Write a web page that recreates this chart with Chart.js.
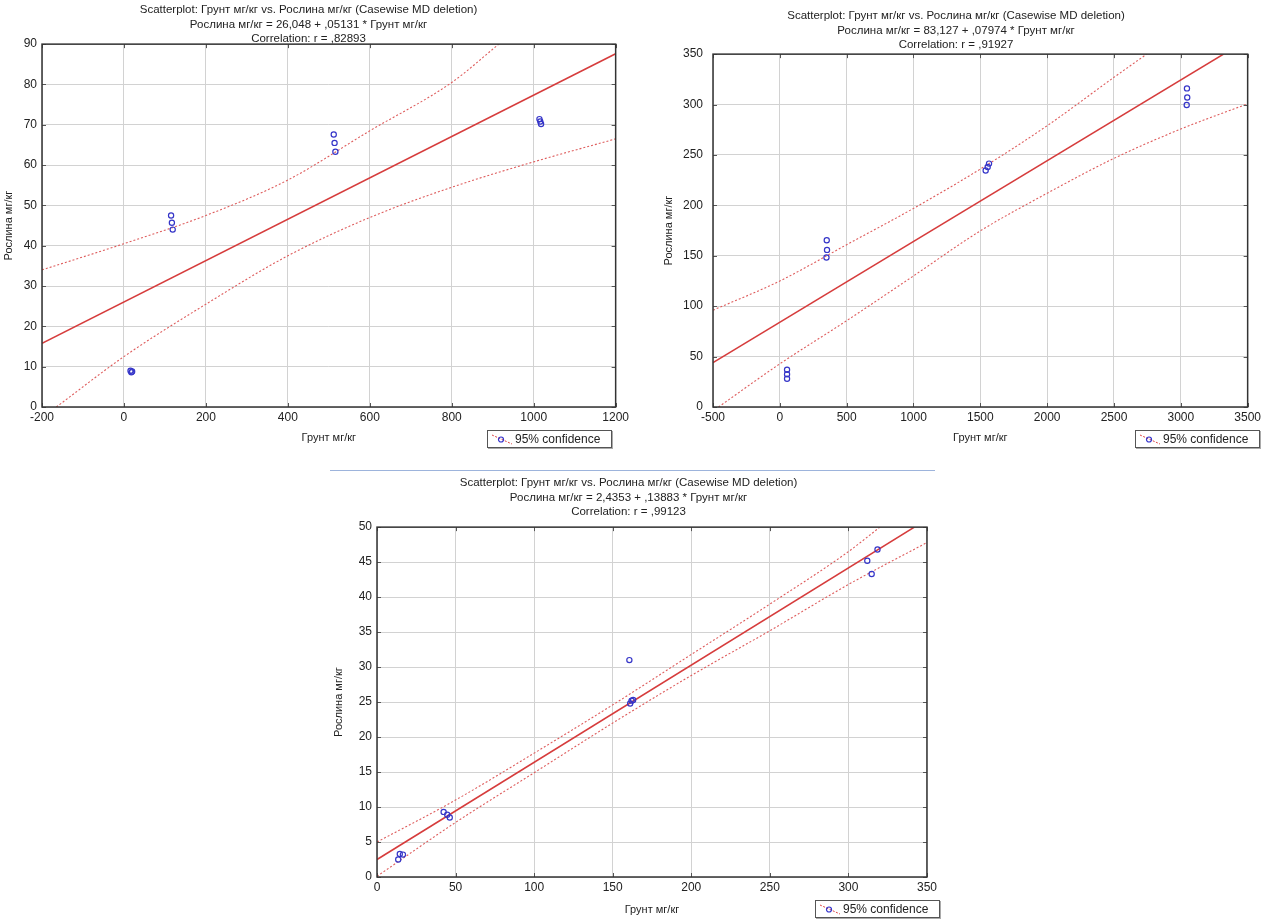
<!DOCTYPE html>
<html>
<head>
<meta charset="utf-8">
<title>Scatterplots</title>
<script src="https://cdn.jsdelivr.net/npm/chart.js@4.4.1/dist/chart.umd.min.js"></script>
<style>
  body { margin: 0; background: #fff; width: 1264px; height: 919px; position: relative; overflow: hidden;
         font-family: "Liberation Sans", Arial, sans-serif; }
  .box { position: absolute; }
  .legend { position: absolute; border: 1px solid #555; background: #fff; font-size: 12px; color: #222;
            width: 118px; height: 16px; line-height: 16px; padding: 0 2px 0 3px; white-space: nowrap;
            box-shadow: 1px 1px 0 #aaa; }
  .legend svg { vertical-align: middle; margin-right: 2px; margin-top: -2px; }
  .sep { position: absolute; left: 330px; top: 470px; width: 605px; height: 1px; background: #9db4dc; }
</style>
</head>
<body>

<div class="box" style="left:0;top:0;width:632px;height:452px"><canvas id="chart1"></canvas></div>
<div class="box" style="left:660px;top:0;width:604px;height:452px"><canvas id="chart2"></canvas></div>
<div class="sep"></div>
<div class="box" style="left:330px;top:472px;width:610px;height:447px"><canvas id="chart3"></canvas></div>

<div class="legend" style="left:487px;top:430px"><svg width="22" height="12"><line x1="1" y1="2" x2="21" y2="11" stroke="#d44" stroke-dasharray="2,1.5"/><circle cx="10" cy="6.5" r="2.5" fill="none" stroke="#33c" stroke-width="1.2"/></svg>95% confidence</div>
<div class="legend" style="left:1135px;top:430px"><svg width="22" height="12"><line x1="1" y1="2" x2="21" y2="11" stroke="#d44" stroke-dasharray="2,1.5"/><circle cx="10" cy="6.5" r="2.5" fill="none" stroke="#33c" stroke-width="1.2"/></svg>95% confidence</div>
<div class="legend" style="left:815px;top:900px"><svg width="22" height="12"><line x1="1" y1="2" x2="21" y2="11" stroke="#d44" stroke-dasharray="2,1.5"/><circle cx="10" cy="6.5" r="2.5" fill="none" stroke="#33c" stroke-width="1.2"/></svg>95% confidence</div>

<script>
// ---- chart 1 ----
const titles1 = ['Scatterplot: Грунт мг/кг vs. Рослина мг/кг (Casewise MD deletion)',
                 'Рослина мг/кг = 26,048 + ,05131 * Грунт мг/кг',
                 'Correlation: r = ,82893'];
const soil1  = [16, 18, 20, 115, 117, 119, 512, 514, 516, 1014, 1016, 1018];
const plant1 = [9.0, 8.6, 8.8, 47.5, 45.7, 44.0, 67.6, 65.5, 63.3, 71.4, 70.8, 70.2];
const fitX1 = [-200, 1200];
const fitY1 = [15.8, 87.6];
const upX1 = [-200, 0, 200, 400, 600, 800, 915];
const upY1 = [34, 40.5, 47.5, 56.3, 68.5, 80.5, 90];
const loX1 = [-165, 0, 200, 400, 600, 800, 1000, 1200];
const loY1 = [0, 12.5, 25.5, 37.5, 47, 54.5, 60.8, 66.5];
const xTicks1 = [-200, 0, 200, 400, 600, 800, 1000, 1200];
const yTicks1 = [0, 10, 20, 30, 40, 50, 60, 70, 80, 90];

// ---- chart 2 ----
const titles2 = ['Scatterplot: Грунт мг/кг vs. Рослина мг/кг (Casewise MD deletion)',
                 'Рослина мг/кг = 83,127 + ,07974 * Грунт мг/кг',
                 'Correlation: r = ,91927'];
const soil2  = [54, 54, 54, 351, 353, 349, 1540, 1555, 1565, 3046, 3048, 3044];
const plant2 = [37, 32.5, 28, 165.4, 155.8, 148.3, 234.6, 238, 241.4, 316, 307, 299.6];
const fitX2 = [-500, 3320];
const fitY2 = [44, 350];
const upX2 = [-500, 0, 500, 1000, 1500, 2000, 2500, 2745];
const upY2 = [96, 125, 161, 197, 236, 279, 327, 350];
const loX2 = [-459, 0, 500, 1000, 1500, 2000, 2500, 3000, 3500];
const loY2 = [0, 42.8, 85.6, 130, 174.7, 212, 246.6, 275.7, 300.7];
const xTicks2 = [-500, 0, 500, 1000, 1500, 2000, 2500, 3000, 3500];
const yTicks2 = [0, 50, 100, 150, 200, 250, 300, 350];

// ---- chart 3 ----
const titles3 = ['Scatterplot: Грунт мг/кг vs. Рослина мг/кг (Casewise MD deletion)',
                 'Рослина мг/кг = 2,4353 + ,13883 * Грунт мг/кг',
                 'Correlation: r = ,99123'];
const soil3  = [13.5, 14.5, 16.5, 42.4, 44.7, 46.3, 160.6, 161.1, 162, 163, 312, 314.8, 318.5];
const plant3 = [2.5, 3.3, 3.2, 9.3, 8.9, 8.5, 31.0, 24.8, 25.2, 25.3, 45.2, 43.3, 46.8];
const fitX3 = [0, 342];
const fitY3 = [2.5, 50];
const upX3 = [0, 50, 100, 150, 200, 250, 300, 320];
const upY3 = [5.0, 11.0, 17.7, 24.6, 31.8, 39.0, 46.5, 50];
const loX3 = [0, 50, 100, 150, 200, 250, 300, 350];
const loY3 = [0.1, 7.8, 14.9, 22.0, 28.8, 35.2, 41.8, 47.8];
const xTicks3 = [0, 50, 100, 150, 200, 250, 300, 350];
const yTicks3 = [0, 5, 10, 15, 20, 25, 30, 35, 40, 45, 50];

const FONT = '"Liberation Sans", Arial, sans-serif';
const TXT = '#222';

function pts(xs, ys) {
  return xs.map((x, i) => ({ x: x, y: ys[i] }));
}

// plot frame and small inward tick marks, like STATISTICA draws them
const frame = {
  id: 'frame',
  afterDatasetsDraw(chart) {
    const a = chart.chartArea, c = chart.ctx;
    const xs = chart.scales.x, ys = chart.scales.y;
    c.save();
    c.strokeStyle = '#555';
    c.lineWidth = 1;
    c.beginPath();
    xs.ticks.forEach(t => {
      const p = Math.round(xs.getPixelForValue(t.value)) + 0.5;
      c.moveTo(p, a.bottom); c.lineTo(p, a.bottom - 4);
      c.moveTo(p, a.top); c.lineTo(p, a.top + 4);
    });
    ys.ticks.forEach(t => {
      const p = Math.round(ys.getPixelForValue(t.value)) + 0.5;
      c.moveTo(a.left, p); c.lineTo(a.left + 4, p);
      c.moveTo(a.right, p); c.lineTo(a.right - 4, p);
    });
    c.stroke();
    c.strokeStyle = '#333';
    c.lineWidth = 1.5;
    c.strokeRect(a.left, a.top, a.right - a.left, a.bottom - a.top);
    c.restore();
  }
};

function build(id, o) {
  return new Chart(document.getElementById(id), {
    type: 'scatter',
    data: {
      datasets: [
        { data: pts(o.sx, o.sy), pointRadius: 2.6, pointBorderWidth: 1.2,
          pointBorderColor: '#3535c8', pointBackgroundColor: 'rgba(0,0,0,0)' },
        { data: pts(o.fx, o.fy), showLine: true, pointRadius: 0,
          borderColor: '#d63c3c', borderWidth: 1.6 },
        { data: pts(o.ux, o.uy), showLine: true, pointRadius: 0, cubicInterpolationMode: 'monotone',
          borderColor: '#de5c5c', borderWidth: 1.1, borderDash: [2, 2] },
        { data: pts(o.lx, o.ly), showLine: true, pointRadius: 0, cubicInterpolationMode: 'monotone',
          borderColor: '#de5c5c', borderWidth: 1.1, borderDash: [2, 2] }
      ]
    },
    options: {
      responsive: true,
      maintainAspectRatio: false,
      animation: false,
      layout: { padding: o.pad },
      plugins: {
        legend: { display: false },
        tooltip: { enabled: false },
        title: {
          display: true, text: o.title, color: TXT,
          font: { family: FONT, size: 11.5, weight: 'normal', lineHeight: 1.25 },
          padding: o.titlePad
        }
      },
      scales: {
        x: {
          type: 'linear', min: o.xt[0], max: o.xt[o.xt.length - 1],
          afterBuildTicks: s => { s.ticks = o.xt.map(v => ({ value: v })); },
          afterFit: s => { s.height = o.xh; },
          ticks: { callback: v => String(v), color: TXT, font: { family: FONT, size: 12 },
                   padding: 3, maxRotation: 0, autoSkip: false },
          grid: { color: '#d2d2d2', lineWidth: 1, drawTicks: false },
          border: { display: false },
          title: { display: true, text: 'Грунт мг/кг', color: TXT,
                   font: { family: FONT, size: 11 }, padding: { top: 4, bottom: 2 } }
        },
        y: {
          type: 'linear', min: o.yt[0], max: o.yt[o.yt.length - 1],
          afterBuildTicks: s => { s.ticks = o.yt.map(v => ({ value: v })); },
          afterFit: s => { s.width = o.yw; },
          ticks: { callback: v => String(v), color: TXT, font: { family: FONT, size: 12 },
                   padding: o.ytp, autoSkip: false },
          grid: { color: '#d2d2d2', lineWidth: 1, drawTicks: false },
          border: { display: false },
          title: { display: true, text: 'Рослина мг/кг', color: TXT,
                   font: { family: FONT, size: 11 }, padding: { top: 2, bottom: 2 } }
        }
      }
    },
    plugins: [frame]
  });
}

build('chart1', {
  title: titles1, sx: soil1, sy: plant1, fx: fitX1, fy: fitY1,
  ux: upX1, uy: upY1, lx: loX1, ly: loY1, xt: xTicks1, yt: yTicks1,
  pad: { left: 0, right: 15, top: 0, bottom: 5 }, titlePad: { top: 3, bottom: -2 },
  xh: 40, yw: 42, ytp: 5
});

build('chart2', {
  title: titles2, sx: soil2, sy: plant2, fx: fitX2, fy: fitY2,
  ux: upX2, uy: upY2, lx: loX2, ly: loY2, xt: xTicks2, yt: yTicks2,
  pad: { left: 0, right: 12, top: 0, bottom: 5 }, titlePad: { top: 9, bottom: 2 },
  xh: 40, yw: 53, ytp: 10
});

build('chart3', {
  title: titles3, sx: soil3, sy: plant3, fx: fitX3, fy: fitY3,
  ux: upX3, uy: upY3, lx: loX3, ly: loY3, xt: xTicks3, yt: yTicks3,
  pad: { left: 0, right: 13, top: 0, bottom: 0 }, titlePad: { top: 4, bottom: 8 },
  xh: 42, yw: 47, ytp: 5
});
</script>
</body>
</html>
